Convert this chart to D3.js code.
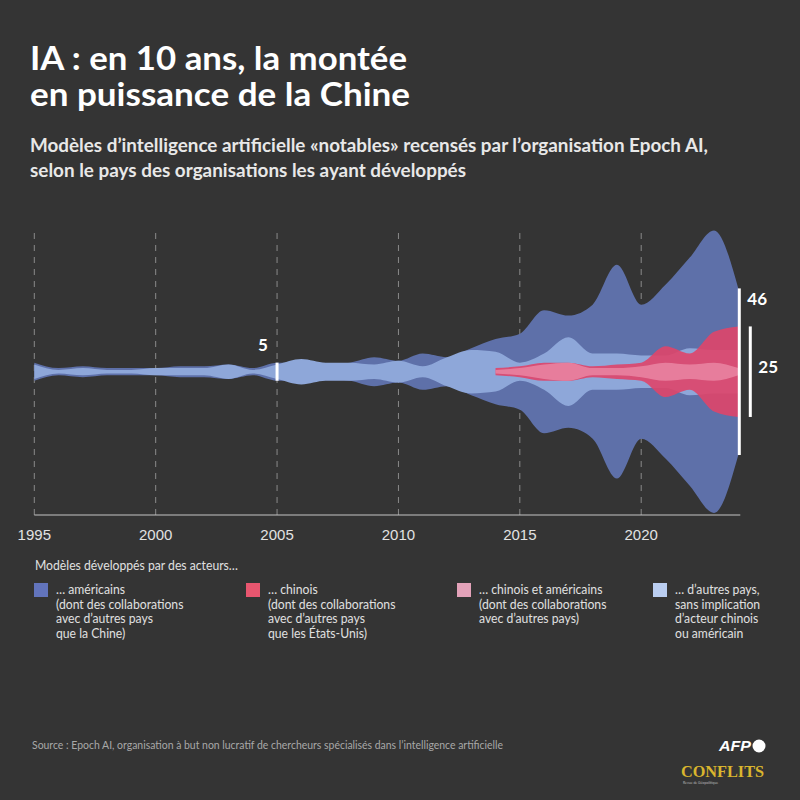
<!DOCTYPE html>
<html>
<head>
<meta charset="utf-8">
<script src="https://cdn.jsdelivr.net/npm/d3@7"></script>
<style>
  html, body { margin: 0; padding: 0; background: #343434; }
  svg { display: block; }
</style>
</head>
<body>
<div id="chart"></div>
<script>
// models per year
const years = [1995, 1996, 1997, 1998, 1999, 2000, 2001, 2002, 2003, 2004,
               2005, 2006, 2007, 2008, 2009, 2010, 2011, 2012, 2013, 2014,
               2015, 2016, 2017, 2018, 2019, 2020, 2021, 2022, 2023, 2024];
const usModels    = [5, 2, 3, 2, 2, 2, 3, 3, 4, 2, 5, 5, 4, 5, 8, 6, 10, 8, 13, 18, 21, 34, 31, 37, 59, 37, 48, 63, 78, 46];
const otherModels = [4, 1, 2, 1, 1, 2, 2, 2, 4, 1, 4, 7, 5, 5, 4, 6, 3, 8, 12, 11, 5, 10, 19, 10, 10, 9, 9, 13, 12, 12];
const cnYears     = [2014, 2015, 2016, 2017, 2018, 2019, 2020, 2021, 2022, 2023, 2024];
const cnModels    = [2, 3, 5, 5, 3, 4, 5, 14, 10, 22, 25];
const cnUsModels  = [1, 2, 4, 5, 2, 2, 3, 5, 4, 5, 2];

const tickYears = [1995, 2000, 2005, 2010, 2015, 2020];
// scale bars: [year, value]
const markers = [[2005, 5], [2024, 46], [2024, 25]];

const legendTitle = "Modèles développés par des acteurs…";
const legendLabels = [
  ["… américains", "(dont des collaborations", "avec d’autres pays", "que la Chine)"],
  ["… chinois", "(dont des collaborations", "avec d’autres pays", "que les États-Unis)"],
  ["… chinois et américains", "(dont des collaborations", "avec d’autres pays)"],
  ["… d’autres pays,", "sans implication", "d’acteur chinois", "ou américain"]
];
const legendColors = ["#6274bc", "#e8566f", "#e3a2b9", "#bacdf0"];

const W = 800, H = 800;
const cy = 371.7;
const sansFont = "Lato, 'Open Sans', sans-serif";

const svg = d3.select("#chart").append("svg")
  .attr("width", W).attr("height", H);
svg.append("rect").attr("width", W).attr("height", H).attr("fill", "#343434");

const x = d3.scaleLinear().domain([1995, 2024]).range([34.3, 738.3]);
const h = d3.scaleLinear().domain([0, 46]).range([0, 83.3]); // half width

// fit a text to a given width (the original font is narrower)
function fit(sel, w) {
  const n = sel.node().getComputedTextLength();
  if (Math.abs(n - w) > 1.5) sel.attr("textLength", w).attr("lengthAdjust", "spacingAndGlyphs");
  return sel;
}
function squeeze(sel, k) {
  const n = sel.node().getComputedTextLength();
  sel.attr("textLength", n * k).attr("lengthAdjust", "spacingAndGlyphs");
  return sel;
}

// titles
fit(svg.append("text").attr("x", 30).attr("y", 70)
  .attr("font-family", sansFont).attr("font-weight", 700).attr("font-size", 32)
  .attr("fill", "#fff").text("IA : en 10 ans, la montée"), 377);
fit(svg.append("text").attr("x", 30).attr("y", 106)
  .attr("font-family", sansFont).attr("font-weight", 700).attr("font-size", 32)
  .attr("fill", "#fff").text("en puissance de la Chine"), 380);
fit(svg.append("text").attr("x", 30).attr("y", 152)
  .attr("font-family", sansFont).attr("font-weight", 700).attr("font-size", 18)
  .attr("fill", "#e8e8e8").text("Modèles d’intelligence artificielle «notables» recensés par l’organisation Epoch AI,"), 678);
fit(svg.append("text").attr("x", 30).attr("y", 177)
  .attr("font-family", sansFont).attr("font-weight", 700).attr("font-size", 18)
  .attr("fill", "#e8e8e8").text("selon le pays des organisations les ayant développés"), 436);

// grid
svg.append("g").selectAll("line").data(tickYears).join("line")
  .attr("x1", d => x(d)).attr("x2", d => x(d))
  .attr("y1", 233).attr("y2", 515)
  .attr("stroke", "#8a8a8a").attr("stroke-width", 1)
  .attr("stroke-dasharray", "6,6");

svg.append("line").attr("x1", x(1995)).attr("x2", x(2024) + 2)
  .attr("y1", 515).attr("y2", 515)
  .attr("stroke", "#c4c4c4").attr("stroke-width", 1.2);

svg.append("g").selectAll("text").data(tickYears).join("text")
  .attr("x", d => x(d)).attr("y", 539.5)
  .attr("text-anchor", "middle")
  .attr("font-family", "'Liberation Sans', Arial, sans-serif")
  .attr("font-size", 15).attr("fill", "#e2e2e2")
  .text(d => d);

// streams
const area = d3.area()
  .x(d => x(d[0]))
  .y0(d => cy + h(d[1]))
  .y1(d => cy - h(d[1]))
  .curve(d3.curveMonotoneX);

const series = [
  { yrs: years, vals: usModels, color: "#5e70a9", op: 1 },
  { yrs: years, vals: otherModels, color: "#8ea7d9", op: 1 },
  { yrs: cnYears, vals: cnModels, color: "#df4569", op: 0.9 },
  { yrs: cnYears, vals: cnUsModels, color: "#ea86a3", op: 0.85 }
];
svg.append("g").selectAll("path").data(series).join("path")
  .attr("d", s => area(s.yrs.map((yr, i) => [yr, s.vals[i]])))
  .attr("fill", d => d.color)
  .attr("fill-opacity", d => d.op);

// scale bars
const barX = [x(2005), x(2024) + 1, x(2024) + 12];
markers.forEach((m, i) => {
  svg.append("line")
    .attr("x1", barX[i]).attr("x2", barX[i])
    .attr("y1", cy - h(m[1])).attr("y2", cy + h(m[1]))
    .attr("stroke", "#fff").attr("stroke-width", 3);
});
svg.append("text").attr("x", barX[0] - 14).attr("y", 351)
  .attr("text-anchor", "middle")
  .attr("font-family", sansFont).attr("font-weight", 700).attr("font-size", 17)
  .attr("fill", "#fff").text(markers[0][1]);
svg.append("text").attr("x", barX[1] + 8).attr("y", 305)
  .attr("font-family", sansFont).attr("font-weight", 700).attr("font-size", 17)
  .attr("fill", "#fff").text(markers[1][1]);
svg.append("text").attr("x", barX[2] + 8).attr("y", 373)
  .attr("font-family", sansFont).attr("font-weight", 700).attr("font-size", 17)
  .attr("fill", "#fff").text(markers[2][1]);

// legend
const lt = svg.append("text").attr("x", 35).attr("y", 570)
  .attr("font-family", sansFont).attr("font-size", 13)
  .attr("fill", "#e0e0e0").text(legendTitle);
const k = 203 / lt.node().getComputedTextLength();
fit(lt, 203);

const colX = [34, 246, 457, 653];
const lg = svg.append("g").selectAll("g").data(legendLabels).join("g")
  .attr("transform", (d, i) => `translate(${colX[i]},0)`);
lg.append("rect").attr("x", 0).attr("y", 583).attr("width", 14).attr("height", 14)
  .attr("fill", (d, i) => legendColors[i]);
lg.each(function (lines) {
  const g = d3.select(this);
  lines.forEach((t, j) => {
    squeeze(g.append("text").attr("x", 22).attr("y", 594 + j * 14.6)
      .attr("font-family", sansFont).attr("font-size", 13)
      .attr("fill", "#e0e0e0").text(t), k);
  });
});

// source + logos
fit(svg.append("text").attr("x", 32).attr("y", 749)
  .attr("font-family", sansFont).attr("font-size", 11)
  .attr("fill", "#a8a8a8")
  .text("Source : Epoch AI, organisation à but non lucratif de chercheurs spécialisés dans l’intelligence artificielle"), 471);

fit(svg.append("text").attr("x", 719).attr("y", 751)
  .attr("font-family", "'Liberation Sans', Arial, sans-serif").attr("font-weight", 700)
  .attr("font-style", "italic").attr("font-size", 14)
  .attr("fill", "#fff").text("AFP"), 32);
svg.append("circle").attr("cx", 759).attr("cy", 746).attr("r", 6.5).attr("fill", "#fff");

fit(svg.append("text").attr("x", 681).attr("y", 777)
  .attr("font-family", "'Liberation Serif', 'DejaVu Serif', serif").attr("font-weight", 700)
  .attr("font-size", 17).attr("fill", "#d9b52e").text("CONFLITS"), 83);
svg.append("text").attr("x", 683).attr("y", 784)
  .attr("font-family", sansFont).attr("font-size", 3.5)
  .attr("fill", "#bbb").text("Revue de Géopolitique");
</script>
</body>
</html>
